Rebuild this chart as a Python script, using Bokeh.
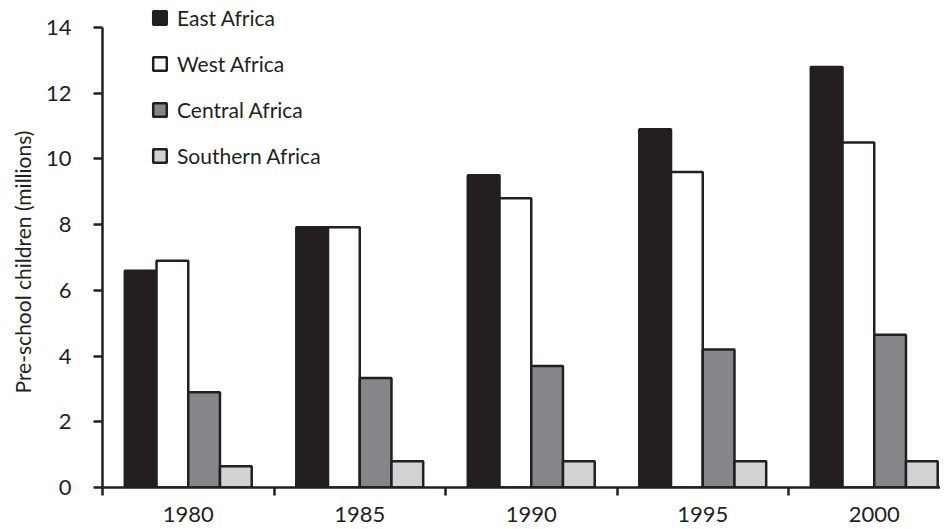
from bokeh.plotting import figure
from bokeh.models import Range1d, FixedTicker, Legend, LegendItem, ColumnDataSource, Title
from bokeh.transform import dodge
from bokeh.embed import file_html
from bokeh.resources import INLINE

years = ["1980", "1985", "1990", "1995", "2000"]
east = [6.6, 7.92, 9.5, 10.9, 12.8]
west = [6.9, 7.92, 8.8, 9.6, 10.5]
central = [2.9, 3.33, 3.7, 4.2, 4.65]
southern = [0.65, 0.8, 0.8, 0.8, 0.8]
series_names = ["East Africa", "West Africa", "Central Africa", "Southern Africa"]
y_ticks = [0, 2, 4, 6, 8, 10, 12, 14]
y_title = "Pre-school children (millions)"

INK = "#231f20"
fills = [INK, "#ffffff", "#858689", "#d1d2d4"]
FONT = "Lato"

xs = [i + 0.5 for i in range(len(years))]
src = ColumnDataSource(dict(x=xs, east=east, west=west, central=central, southern=southern))

p = figure(width=940, height=527, output_backend="svg", toolbar_location=None,
           x_range=Range1d(0, (940 - 102) / 171.5), y_range=Range1d(0, 14 * 487 / 460),
           min_border_left=102, min_border_right=0, min_border_top=0, min_border_bottom=40)
p.outline_line_color = None
p.xgrid.grid_line_color = None
p.ygrid.grid_line_color = None
p.background_fill_color = None

bw = 0.185
cols = ["east", "west", "central", "southern"]
renderers = []
for k, col in enumerate(cols):
    r = p.vbar(x=dodge("x", (k - 1.5) * bw, range=p.x_range), top=col, bottom=0, width=bw,
               source=src, fill_color=fills[k], line_color=INK, line_width=2.5)
    renderers.append(r)

# x axis
xa = p.xaxis[0]
xa.ticker = FixedTicker(ticks=xs, minor_ticks=list(range(len(years) + 1)))
xa.major_label_overrides = {x: y for x, y in zip(xs, years)}
xa.major_tick_out = 0
xa.major_tick_in = 0
xa.minor_tick_out = 8
xa.minor_tick_in = 0
xa.minor_tick_line_width = 2.5
xa.minor_tick_line_color = INK
xa.axis_line_width = 2.5
xa.axis_line_color = INK
xa.major_label_standoff = 11
xa.major_label_text_font = FONT
xa.major_label_text_font_size = "22px"
xa.major_label_text_color = INK

# y axis
ya = p.yaxis[0]
ya.ticker = FixedTicker(ticks=y_ticks, minor_ticks=[])
ya.bounds = (0, 14)
ya.major_tick_out = 9
ya.major_tick_in = 0
ya.major_tick_line_width = 2.5
ya.major_tick_line_color = INK
ya.axis_line_width = 2.5
ya.axis_line_color = INK
ya.major_label_standoff = 22
ya.major_label_text_font = FONT
ya.major_label_text_font_size = "22px"
ya.major_label_text_color = INK

p.add_layout(Title(text=y_title, align="left", offset=94, standoff=15,
                   text_font=FONT, text_font_size="21px", text_font_style="normal",
                   text_color=INK), "left")

legend = Legend(items=[LegendItem(label=n, renderers=[r]) for n, r in zip(series_names, renderers)],
                location=(49, 319), orientation="vertical",
                glyph_width=17, glyph_height=17, label_height=20, label_standoff=9,
                spacing=21, padding=0, margin=0,
                label_text_font=FONT, label_text_font_size="21px", label_text_color=INK,
                border_line_color=None, background_fill_alpha=0)
p.add_layout(legend, "center")

open("out.html", "w").write(file_html(p, INLINE))
